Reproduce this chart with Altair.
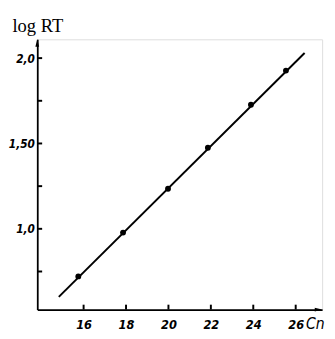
import altair as alt
import pandas as pd

# data
carbon_n = [15.75, 17.86, 19.98, 21.86, 23.89, 25.54]
log_rt = [0.721, 0.978, 1.235, 1.475, 1.727, 1.927]
fit_x = [14.83, 26.42]
fit_y = [0.601, 2.03]
x_ticks = [16, 18, 20, 22, 24, 26]
y_labels = [1.0, 1.5, 2.0]
y_ticks = [0.75, 1.0, 1.25, 1.5, 1.75, 2.0]
x_dom = [13.815, 27.246]
y_dom = [0.527, 2.11]

W, H = 292, 277
LF = "DejaVu Sans Condensed"

pts = pd.DataFrame({"x": carbon_n, "y": log_rt})
fit = pd.DataFrame({"x": fit_x, "y": fit_y})
xt = pd.DataFrame({"x": x_ticks})
yt = pd.DataFrame({"y": y_ticks})
arrows = pd.DataFrame({"x": [x_dom[0], x_dom[1]], "y": [y_dom[1], y_dom[0]],
                       "s": ["M0,0L0.4,1.6L-0.4,1.6Z", "M0,0L-1.6,0.4L-1.6,-0.4Z"]})

xs = alt.Scale(domain=x_dom, nice=False, zero=False)
ys = alt.Scale(domain=y_dom, nice=False, zero=False)

line = alt.Chart(fit).mark_line(color="black", strokeWidth=2).encode(
    x=alt.X("x:Q", scale=xs, axis=alt.Axis(
        values=x_ticks, ticks=False, grid=False, domainColor="black", domainWidth=1.8,
        labelFont=LF, labelFontStyle="italic", labelFontWeight="bold", labelFontSize=13,
        labelColor="black", labelPadding=9,
        title="Cn", titleFont=LF, titleFontStyle="italic", titleFontWeight="normal",
        titleFontSize=16, titleAngle=0, titleAlign="left", titleBaseline="alphabetic",
        titleX=275, titleY=19, titleColor="black")),
    y=alt.Y("y:Q", scale=ys, axis=alt.Axis(
        values=y_labels, ticks=False, grid=False, domainColor="black", domainWidth=1.8,
        labelFont=LF, labelFontStyle="italic", labelFontWeight="bold", labelFontSize=12,
        labelColor="black", labelPadding=3,
        labelExpr="datum.value == 1.5 ? '1,50' : replace(format(datum.value, '.1f'), '.', ',')",
        title="log RT", titleFont="Liberation Serif", titleFontWeight="normal",
        titleFontSize=19, titleAngle=0, titleAlign="left", titleBaseline="alphabetic",
        titleX=-26, titleY=-8, titleColor="black")),
)

points = alt.Chart(pts).mark_circle(color="black", opacity=1, size=36).encode(
    x=alt.X("x:Q", scale=xs),
    y=alt.Y("y:Q", scale=ys),
)

xtick = alt.Chart(xt).mark_rule(color="black", strokeWidth=2).encode(
    x=alt.X("x:Q", scale=xs), y=alt.value(H), y2=alt.value(H - 5))

ytick = alt.Chart(yt).mark_rule(color="black", strokeWidth=2).encode(
    y=alt.Y("y:Q", scale=ys), x=alt.value(0), x2=alt.value(5))

heads = alt.Chart(arrows).mark_point(color="black", filled=True, opacity=1,
                                     strokeWidth=0.5, size=90).encode(
    x=alt.X("x:Q", scale=xs),
    y=alt.Y("y:Q", scale=ys),
    shape=alt.Shape("s:N", scale=None),
)

chart = alt.layer(line, xtick, ytick, points, heads).properties(
    width=W, height=H,
    autosize=alt.AutoSizeParams(type="none"),
    padding={"left": 30, "top": 28, "right": 5, "bottom": 24},
).configure_view(stroke=None).configure(background="white")

chart.save("out.html", embed_options={"renderer": "svg", "actions": False})
